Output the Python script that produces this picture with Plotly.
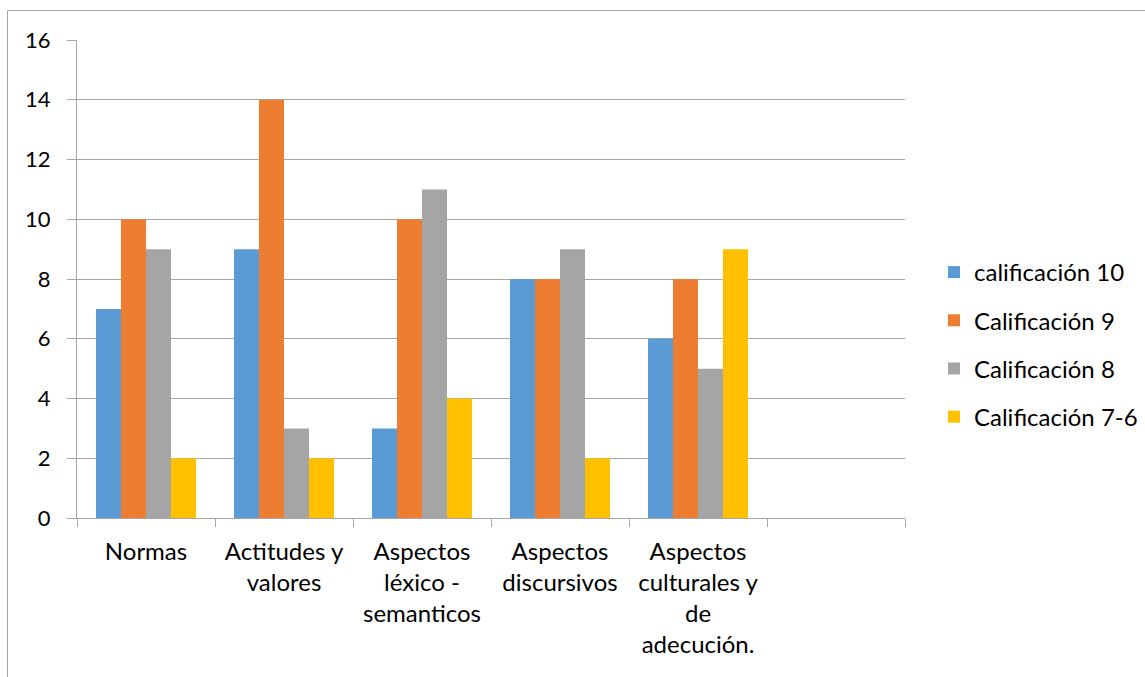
import plotly.graph_objects as go

categories = ["Normas", "Actitudes y<br>valores", "Aspectos<br>léxico -<br>semanticos",
              "Aspectos<br>discursivos", "Aspectos<br>culturales y<br>de<br>adecución.", " "]
series_names = ["calificación 10", "Calificación 9", "Calificación 8", "Calificación 7-6"]
cal10 = [7, 9, 3, 8, 6, None]
cal9 = [10, 14, 10, 8, 8, None]
cal8 = [9, 3, 11, 9, 5, None]
cal76 = [2, 2, 4, 2, 9, None]
colors = ["#5B9BD5", "#ED7D31", "#A5A5A5", "#FFC000"]

FONT = "Lato, 'Open Sans', sans-serif"
fig = go.Figure()
for i, (name, vals) in enumerate(zip(series_names, [cal10, cal9, cal8, cal76])):
    fig.add_trace(go.Bar(x=categories, y=vals, name=name, marker_color=colors[i],
                         marker_line_width=0, legendgroup=f"g{i}"))

L, R, T, B = 77, 905, 40, 518
W, H = 1145, 677
pw, ph = R - L, B - T
def px(x):
    return (x - L) / pw
def py(y):
    return (B - y) / ph

fig.update_layout(
    width=W, height=H,
    margin=dict(l=L, r=W - R, t=T, b=H - B, autoexpand=False),
    paper_bgcolor="white", plot_bgcolor="white",
    barmode="group", bargap=0.275, bargroupgap=0,
    font=dict(family=FONT, size=24, color="black"),
    showlegend=True,
    legend=dict(x=px(934), y=py(250), xanchor="left", yanchor="top",
                font=dict(size=24), tracegroupgap=14, itemwidth=30,
                bgcolor="rgba(0,0,0,0)"),
    xaxis=dict(type="category", showline=True, linecolor="#A6A6A6", linewidth=1,
               ticks="outside", tickson="boundaries", ticklen=8, tickcolor="#A6A6A6",
               showgrid=False, tickfont=dict(size=24), ticklabelstandoff=12),
    yaxis=dict(range=[0, 16], dtick=2, showline=True, linecolor="#A6A6A6", linewidth=1,
               gridcolor="#A6A6A6", gridwidth=1, ticks="outside", ticklen=9,
               tickcolor="#A6A6A6", tickfont=dict(size=22), zeroline=False,
               ticklabelstandoff=12),
    shapes=[
        dict(type="line", xref="paper", yref="paper", x0=px(7.5), x1=px(7.5),
             y0=py(10.5), y1=py(700), line=dict(color="#A6A6A6", width=1)),
        dict(type="line", xref="paper", yref="paper", x0=px(7.5), x1=px(1200),
             y0=py(10.5), y1=py(10.5), line=dict(color="#A6A6A6", width=1)),
    ],
)
fig.write_html("out.html", config={"displayModeBar": False},
               post_script="document.body.style.margin='0';document.body.style.overflow='hidden';")
